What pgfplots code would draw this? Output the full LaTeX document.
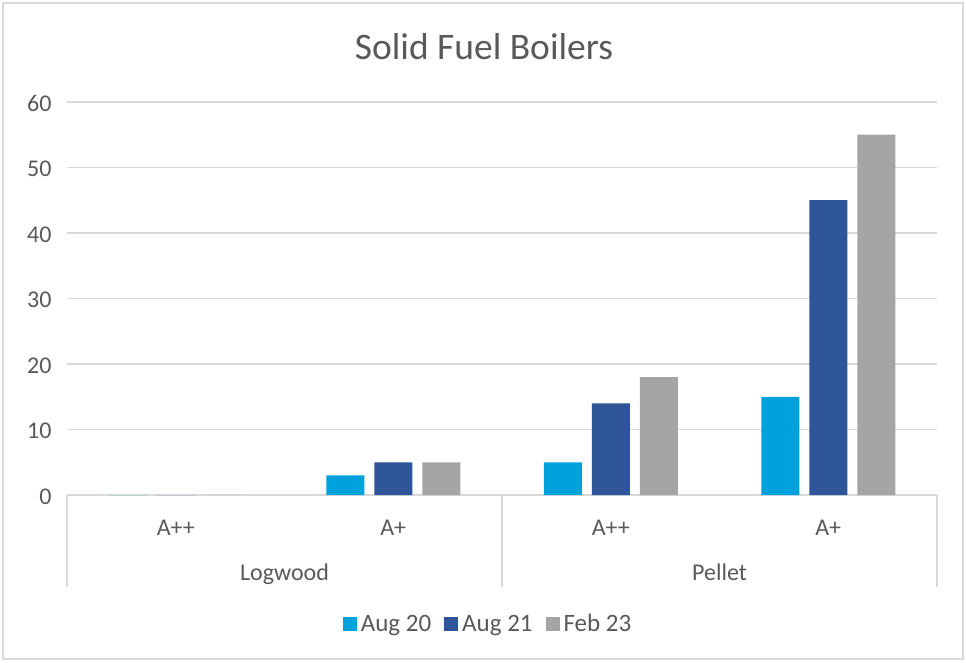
\documentclass[border=0pt]{standalone}
\usepackage{fontspec}
\setmainfont{Carlito}
\usepackage{pgfplots}
\pgfplotsset{compat=1.18}
\definecolor{cA}{HTML}{00A2DE}
\definecolor{cB}{HTML}{2E5597}
\definecolor{cC}{HTML}{A5A5A5}
\definecolor{txt}{HTML}{595959}
\definecolor{grd}{HTML}{D9D9D9}
\begin{document}
\begin{tikzpicture}[x=1pt,y=1pt]
\path (0,0) rectangle (966,662);
\draw[grd, line width=1.5pt] (3,3) rectangle (963,659);
\node[anchor=base, text=txt, font=\fontsize{37.5}{42}\selectfont] at (484,602.5) {Solid Fuel Boilers};
\begin{axis}[
  at={(67pt,167pt)}, anchor=south west,
  scale only axis, width=870pt, height=393pt,
  xmin=0, xmax=4, ymin=0, ymax=60,
  ybar=10pt, bar width=38pt,
  axis lines=left,
  y axis line style={draw=none},
  x axis line style={draw=grd, line width=1.5pt, -},
  major tick length=0pt,
  ytick={0,10,...,60},
  ymajorgrids, grid style={grd, line width=1.5pt},
  xtick={0.5,1.5,2.5,3.5},
  xticklabels={A++,A+,A++,A+},
  /pgf/number format/assume math mode=true,
  tick label style={text=txt, font=\fontsize{24}{28}\selectfont},
  xticklabel style={anchor=base, yshift=-40pt},
  yticklabel style={anchor=east, xshift=-12pt, yshift=-1.5pt},
  clip=false,
  legend columns=3,
  legend style={at={(0.484,-0.328)}, anchor=center, draw=none, fill=none,
    font=\fontsize{25}{29}\selectfont, text=txt,
    /tikz/every even column/.append style={column sep=11pt},
    /tikz/every odd column/.append style={column sep=2pt}},
  legend image code/.code={\fill[#1,draw=none] (0pt,-7pt) rectangle (14pt,7pt);},
]
\addplot[fill=cA, draw=none] coordinates {(0.5,0) (1.5,3) (2.5,5) (3.5,15)};
\addplot[fill=cB, draw=none] coordinates {(0.5,0) (1.5,5) (2.5,14) (3.5,45)};
\addplot[fill=cC, draw=none] coordinates {(0.5,0) (1.5,5) (2.5,18) (3.5,55)};
\legend{Aug 20, Aug 21, Feb 23}
\draw[grd, line width=1.5pt] (axis cs:0,0) -- ++(0,-92pt);
\draw[grd, line width=1.5pt] (axis cs:2,0) -- ++(0,-92pt);
\draw[grd, line width=1.5pt] (axis cs:4,0) -- ++(0,-92pt);
\node[anchor=base, text=txt, font=\fontsize{24}{28}\selectfont] at ([yshift=-85pt]axis cs:1,0) {Logwood};
\node[anchor=base, text=txt, font=\fontsize{24}{28}\selectfont] at ([yshift=-85pt]axis cs:3,0) {Pellet};
\end{axis}
\end{tikzpicture}
\end{document}
